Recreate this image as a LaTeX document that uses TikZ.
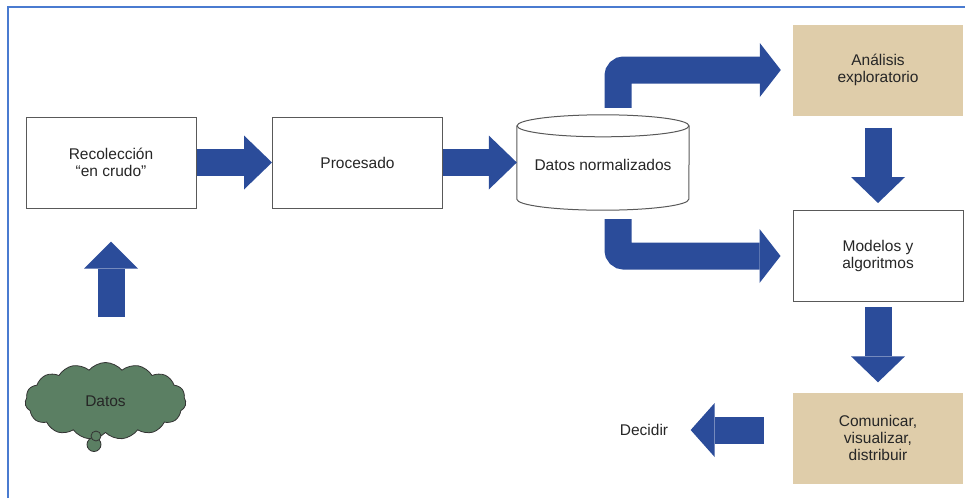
\documentclass[tikz,border=0pt]{standalone}
\usepackage{fontspec}
\setmainfont{Liberation Sans}
\usepackage{xcolor}
\usepackage{tikz}
\usetikzlibrary{arrows.meta,shapes.symbols,calc}
\definecolor{arrowblue}{HTML}{2B4C9A}
\definecolor{boxtan}{HTML}{DFCDAA}
\definecolor{cloudgreen}{HTML}{5B7F63}
\definecolor{frameblue}{HTML}{4A7BD0}
\tikzset{
  box/.style={draw=black!65, line width=1pt, fill=white, align=center, minimum width=170pt, minimum height=91pt},
  tanbox/.style={fill=boxtan, align=center, minimum width=170pt, minimum height=91pt},
  plain/.style={align=center},
  cloudnode/.style={cloud, cloud puffs=15, cloud puff arc=100, cloud ignores aspect, draw=black!80, line width=0.8pt, fill=cloudgreen, minimum width=161pt, minimum height=77pt},
  bubble/.style={circle, draw=black!80, line width=0.8pt, fill=cloudgreen, inner sep=0pt},
  blockarrow/.style={draw=arrowblue, line width=27pt, -{Triangle[length=#1, width=54pt, line width=0pt]}},
  blockarrow/.default=26pt,
  frame/.style={draw=frameblue, line width=1.5pt}
}

\begin{document}
\begin{tikzpicture}[x=1pt, y=-1pt, every node/.style={font=\fontsize{15.5}{17}\selectfont, text=black!85}]
    \useasboundingbox (0,0) rectangle (965,498);
    % Frame
    \draw[frame] (8,498) -- (8,7) -- (965,7);
    % Boxes
    \node[box] (rec) at (111,162.5) {Recolección\\``en crudo''};
    \node[box] (proc) at (357.5,162.5) {Procesado};
    \node[plain, minimum width=172pt, minimum height=95pt, inner sep=0pt] (cyl) at (603,162.5) {};
    \node[tanbox] (ana) at (878,70) {Análisis\\exploratorio};
    \node[box] (mod) at (878,256) {Modelos y\\algoritmos};
    \node[tanbox] (com) at (878,438) {Comunicar,\\visualizar,\\distribuir};
    \node[plain] (dec) at (644,430) {Decidir};
    % Cylinder
    \fill[white] ($(cyl.north west)+(0,11)$) rectangle ($(cyl.south east)+(0,-11)$);
    \draw[black!65, line width=1pt, fill=white] ($(cyl.north west)+(0,11)$) -- ($(cyl.south west)+(0,-11)$)
      arc[start angle=180, end angle=360, x radius=86pt, y radius=11pt] -- ($(cyl.north east)+(0,11)$);
    \draw[black!65, line width=1pt, fill=white] ($(cyl.north)+(0,11)$) ellipse[x radius=86pt, y radius=11pt];
    \node[plain] at ($(cyl.center)+(0,2.5)$) {Datos normalizados};
    % Cloud
    \node[cloudnode] (cloud) at (105.5,401) {Datos};
    \node[bubble, minimum size=14pt] (tail1) at (94,444.5) {};
    \node[bubble, minimum size=10pt] (tail2) at (96,436) {};
    % Block arrows
    \draw[blockarrow=27pt, shorten <=45pt, shorten >=33pt] (cloud.north -| rec.south) -- (rec.south);
    \draw[blockarrow=28pt] (rec.east) -- (proc.west);
    \draw[blockarrow=28pt] (proc.east) -- (cyl.west);
    \draw[blockarrow=21pt, rounded corners=6pt, shorten <=7pt, shorten >=12pt] ([xshift=15pt]cyl.north) |- (ana.west);
    \draw[blockarrow=21pt, rounded corners=6pt, shorten <=9pt, shorten >=12pt] ([xshift=15pt]cyl.south) |- (mod.west);
    \draw[blockarrow, shorten <=12pt, shorten >=7pt] (ana.south) -- (mod.north);
    \draw[blockarrow, shorten <=5pt, shorten >=10pt] (mod.south) -- (com.north);
    \draw[blockarrow=24pt, shorten <=29pt, shorten >=19pt] (com.west |- dec.east) -- (dec.east);
  \end{tikzpicture}
\end{document}
